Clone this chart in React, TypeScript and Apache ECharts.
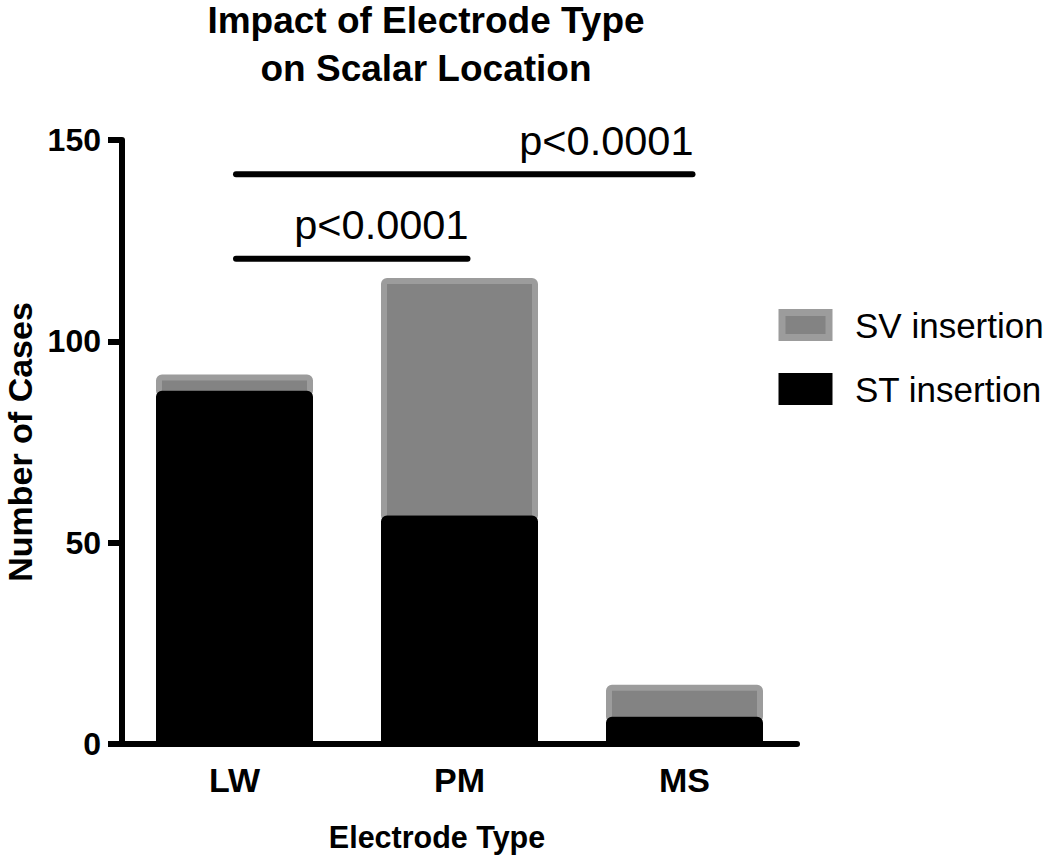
import React, { useEffect, useRef } from "react";
import * as echarts from "echarts";

const categories = ["LW", "PM", "MS"];
const stInsertion = [87, 56, 6];
const svInsertion = [4, 59, 8];
const yTicks = { min: 0, max: 150, interval: 50 };
// significance brackets
const sigFrom = ["LW", "LW"];
const sigTo = ["MS", "PM"];
const sigY = [141.5, 120.5];
const sigLabel = ["p<0.0001", "p<0.0001"];

const FONT = "'Liberation Sans', Arial, Helvetica, sans-serif";
const BAR_W = 151;
const BORDER = 6;

export default function App() {
  const ref = useRef<HTMLDivElement>(null);
  useEffect(() => {
    document.body.style.margin = "0";
    const chart = echarts.init(ref.current!, null, { renderer: "svg" });
    const stData = categories.map((c, i) => [i, stInsertion[i]]);
    const svData = categories.map((c, i) => [i, stInsertion[i], svInsertion[i]]);
    const sigData = sigFrom.map((f, i) => [categories.indexOf(f), categories.indexOf(sigTo[i]), sigY[i], sigLabel[i]]);
    const option: any = {
      animation: false,
      backgroundColor: "#ffffff",
      title: {
        text: "Impact of Electrode Type",
        subtext: "on Scalar Location",
        left: 426,
        top: 2,
        padding: 0,
        itemGap: 11,
        textAlign: "center",
        textStyle: { fontFamily: FONT, fontWeight: "bold", fontSize: 37, lineHeight: 37, color: "#000" },
        subtextStyle: { fontFamily: FONT, fontWeight: "bold", fontSize: 37, lineHeight: 37, color: "#000" },
      },
      legend: {
        orient: "vertical",
        left: 778.5,
        top: 307.5,
        padding: 0,
        itemWidth: 47,
        itemHeight: 25,
        itemGap: 29,
        icon: "rect",
        textStyle: { fontFamily: FONT, fontSize: 35, lineHeight: 25, color: "#000", padding: [0, 0, 0, 21] },
        data: [
          { name: "SV insertion", itemStyle: { color: "#838383", borderColor: "#9c9c9c", borderWidth: 7 } },
          { name: "ST insertion", itemStyle: { color: "#000", borderColor: "#000", borderWidth: 7 } },
        ],
      },
      grid: { left: 122, right: 253, top: 140, bottom: 114, containLabel: false, outerBoundsMode: "none" },
      xAxis: {
        type: "category",
        data: categories,
        name: "Electrode Type",
        nameLocation: "middle",
        nameGap: 77,
        nameTextStyle: { fontFamily: FONT, fontWeight: "bold", fontSize: 30.5, color: "#000", padding: [0, 45, 0, 0] },
        axisLine: { lineStyle: { color: "#000", width: 6 } },
        axisTick: { alignWithLabel: true, length: 14, lineStyle: { color: "#000", width: 6 } },
        axisLabel: { fontFamily: FONT, fontWeight: "bold", fontSize: 34, color: "#000", margin: 19 },
      },
      yAxis: {
        type: "value",
        min: yTicks.min,
        max: yTicks.max,
        interval: yTicks.interval,
        name: "Number of Cases",
        nameLocation: "middle",
        nameGap: 84,
        nameRotate: 90,
        nameTextStyle: { fontFamily: FONT, fontWeight: "bold", fontSize: 34, color: "#000" },
        axisLine: { show: true, lineStyle: { color: "#000", width: 6 } },
        axisTick: { show: true, length: 14, lineStyle: { color: "#000", width: 6 } },
        axisLabel: { fontFamily: FONT, fontWeight: "bold", fontSize: 32, color: "#000", margin: 21 },
        splitLine: { show: false },
      },
      series: [
        {
          name: "SV insertion",
          type: "custom",
          data: svData,
          z: 2,
          itemStyle: { color: "#838383" },
          renderItem: (params: any, api: any) => {
            const cat = api.value(0);
            const base = api.value(1);
            const top = base + api.value(2);
            const p0 = api.coord([cat, base]);
            const p1 = api.coord([cat, top]);
            return {
              type: "rect",
              shape: { x: p0[0] - BAR_W / 2, y: p1[1], width: BAR_W, height: p0[1] - p1[1], r: 3 },
              style: { fill: "#838383", stroke: "#9c9c9c", lineWidth: BORDER },
            };
          },
        },
        {
          name: "ST insertion",
          type: "custom",
          data: stData,
          z: 3,
          itemStyle: { color: "#000" },
          renderItem: (params: any, api: any) => {
            const cat = api.value(0);
            const p0 = api.coord([cat, 0]);
            const p1 = api.coord([cat, api.value(1)]);
            return {
              type: "rect",
              shape: { x: p0[0] - BAR_W / 2, y: p1[1], width: BAR_W, height: p0[1] - p1[1], r: 3 },
              style: { fill: "#000", stroke: "#000", lineWidth: BORDER },
            };
          },
        },
        {
          name: "sig",
          type: "custom",
          data: sigData,
          z: 5,
          silent: true,
          renderItem: (params: any, api: any) => {
            const a = api.coord([api.value(0), api.value(2)]);
            const b = api.coord([api.value(1), api.value(2)]);
            const x1 = a[0] + 1.5;
            const x2 = b[0] + 8;
            const label = sigData[params.dataIndex][3] as string;
            return {
              type: "group",
              children: [
                {
                  type: "line",
                  shape: { x1, y1: a[1], x2, y2: b[1] },
                  style: { stroke: "#000", lineWidth: 6, lineCap: "round" },
                },
                {
                  type: "text",
                  x: x2 + 1,
                  y: a[1] - 13,
                  style: {
                    text: label,
                    fontFamily: FONT,
                    fontSize: 41.5,
                    fill: "#000",
                    align: "right",
                    verticalAlign: "bottom",
                  },
                },
              ],
            };
          },
        },
      ],
    };
    chart.setOption(option);
    return () => chart.dispose();
  }, []);
  return <div ref={ref} style={{ width: 1050, height: 858 }} />;
}
